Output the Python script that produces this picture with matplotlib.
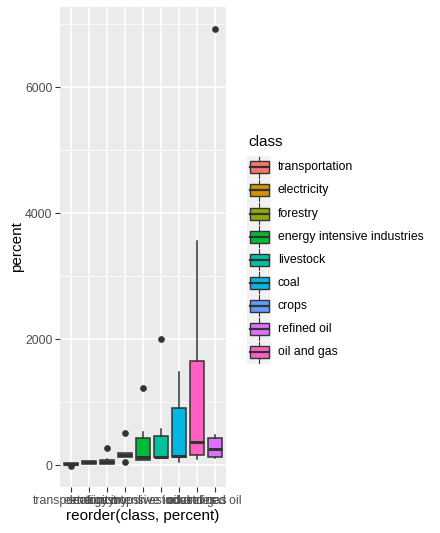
import matplotlib
matplotlib.use("Agg")
import matplotlib.pyplot as plt
from matplotlib.patches import Rectangle

plt.rcParams['font.family'] = ['Liberation Sans', 'DejaVu Sans']

# classes in x order (reorder by percent)
x_classes = ["transportation", "electricity", "forestry", "crops",
             "energy intensive industries", "livestock", "coal",
             "oil and gas", "refined oil"]
whislo = [5, 15, 15, 130, 80, 120, 43, 100, 106]
q1 = [8, 22, 22, 135, 85, 122, 122, 154, 127]
med = [15, 40, 45, 160, 125, 132, 148, 370, 259]
q3 = [30, 60, 75, 185, 423, 455, 900, 1646, 433]
whishi = [35, 70, 90, 190, 524, 571, 1476, 3556, 476]
fliers = [[-18], [], [265], [43, 508], [1217], [1995], [], [], [6916]]

# legend order (factor levels) and ggplot hue colours
legend_classes = ["transportation", "electricity", "forestry",
                  "energy intensive industries", "livestock", "coal",
                  "crops", "refined oil", "oil and gas"]
hue = ["#F8766D", "#D39200", "#93AA00", "#00BA38", "#00C19F",
       "#00B9E3", "#619CFF", "#DB72FB", "#FF61C3"]
col = dict(zip(legend_classes, hue))

W, H = 440, 533
fig = plt.figure(figsize=(W / 100, H / 100), dpi=100)
ax = fig.add_axes([60 / W, 1 - 487 / H, 166 / W, 480 / H])
ax.set_facecolor("#EBEBEB")

stats = []
for i, c in enumerate(x_classes):
    stats.append(dict(whislo=whislo[i], q1=q1[i], med=med[i], q3=q3[i],
                      whishi=whishi[i], fliers=fliers[i], label=c))
pos = list(range(1, len(x_classes) + 1))
bp = ax.bxp(stats, positions=pos, widths=0.8, patch_artist=True,
            showcaps=False,
            boxprops=dict(edgecolor="#333333", linewidth=1.1),
            whiskerprops=dict(color="#333333", linewidth=1.1),
            medianprops=dict(color="#333333", linewidth=2.2),
            flierprops=dict(marker="o", markerfacecolor="#333333",
                            markeredgecolor="#333333", markersize=3.8))
for patch, c in zip(bp["boxes"], x_classes):
    patch.set_facecolor(col[c])

ax.set_xlim(0.4, 9.6)
ax.set_ylim(-349, 7270)
ax.set_yticks([0, 2000, 4000, 6000])
ax.set_yticks([1000, 3000, 5000, 7000], minor=True)
ax.set_xticks(pos)
ax.set_xticklabels(x_classes)
ax.grid(True, which="major", color="white", linewidth=1.1)
ax.grid(True, which="minor", axis="y", color="white", linewidth=0.55)
ax.set_axisbelow(True)
for s in ax.spines.values():
    s.set_visible(False)
ax.tick_params(axis="both", which="major", length=3.5, width=0.8,
               color="#333333", labelcolor="#4D4D4D", labelsize=8.8, pad=2)
ax.tick_params(axis="y", which="minor", length=0)
ax.set_xlabel("reorder(class, percent)", fontsize=11, labelpad=2)
ax.set_ylabel("percent", fontsize=11, labelpad=1)

# legend drawn by hand in pixel coordinates
lg = fig.add_axes([0, 0, 1, 1])
lg.set_xlim(0, W)
lg.set_ylim(H, 0)
lg.axis("off")
lg.patch.set_alpha(0)
lg.text(248, 142.5, "class", fontsize=11, va="center", ha="left")
row0, step = 167.3, 23.1
lg.add_patch(Rectangle((247.3, row0 - step / 2), 23.7, step * len(legend_classes),
                       facecolor="#F2F2F2", edgecolor="none"))
for i, c in enumerate(legend_classes):
    yc = row0 + i * step
    cx = 259.3
    lg.plot([cx, cx], [yc - step / 2 + 1, yc - 6], color="#333333", lw=0.8)
    lg.plot([cx, cx], [yc + 6, yc + step / 2 - 1], color="#333333", lw=0.8)
    lg.add_patch(Rectangle((250, yc - 6), 19, 12, facecolor=col[c],
                           edgecolor="#333333", lw=1.0))
    lg.plot([250, 269], [yc, yc], color="#333333", lw=1.6)
    lg.text(277.7, yc, c, fontsize=8.8, va="center", ha="left", color="black")

fig.savefig("out.png", dpi=100, facecolor="white")
